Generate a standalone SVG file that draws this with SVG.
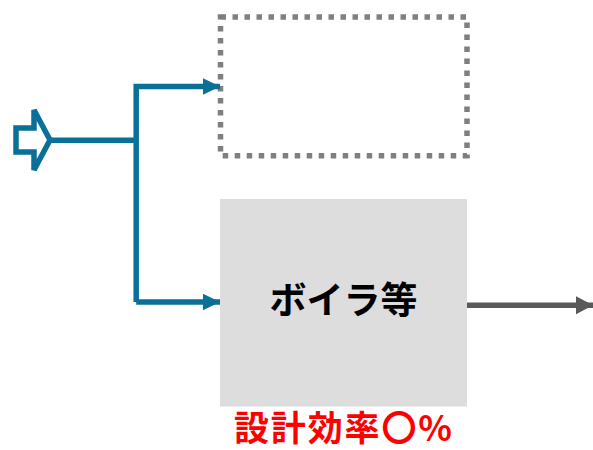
<svg xmlns="http://www.w3.org/2000/svg" width="593" height="450" viewBox="0 0 593 450">
<style>
.blue{fill:none;stroke:#0A7097;stroke-width:5.5}
.gray{fill:none;stroke:#595959;stroke-width:5.5}
.lbl{font-family:"Noto Sans CJK JP","Liberation Sans",sans-serif;font-weight:bold;text-anchor:middle;dominant-baseline:central}
</style>
<defs>
<marker id="ab" markerUnits="userSpaceOnUse" markerWidth="18" markerHeight="18" refX="17.5" refY="8.5" orient="auto"><path d="M0,0 L17.5,8.5 L0,17 Z" fill="#0A7097"/></marker>
<marker id="ag" markerUnits="userSpaceOnUse" markerWidth="18" markerHeight="19" refX="17" refY="9" orient="auto"><path d="M0,0 L17,9 L0,18 Z" fill="#595959"/></marker>
</defs>
<rect width="593" height="450" fill="#FFFFFF"/>
<g id="input">
<polygon points="16,128 34,128 34,110 50,140 34,170 34,152 16,152" fill="none" stroke="#0A7097" stroke-width="5.5" stroke-linejoin="miter"/>
</g>
<g id="alt-node">
<rect x="220.5" y="17" width="246.5" height="138.7" fill="none" stroke="#7F7F7F" stroke-width="5.5" stroke-dasharray="5.5 6.5"/>
</g>
<g id="boiler">
<rect x="220" y="199" width="247" height="207.5" fill="#DDDDDD"/>
<text class="lbl" x="343.5" y="298" font-size="37" fill="#000000">ボイラ等</text>
</g>
<g id="efficiency">
<text class="lbl" x="343" y="425" font-size="35" textLength="218" lengthAdjust="spacing" fill="#FF0000">設計効率〇%</text>
</g>
<g id="connectors">
<path class="blue" d="M50,140.3 H136.2"/>
<path class="blue" d="M136.2,302 V86.5 H220" marker-end="url(#ab)"/>
<path class="blue" d="M136.2,302 H220" marker-end="url(#ab)"/>
<path class="gray" d="M467,305.3 H593" marker-end="url(#ag)"/>
</g>
</svg>
